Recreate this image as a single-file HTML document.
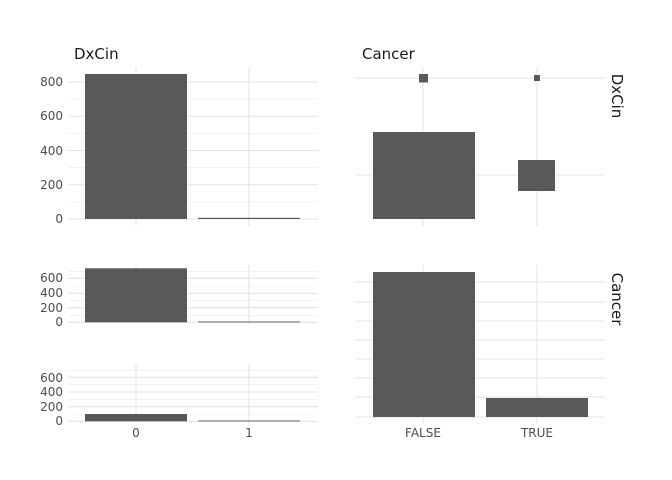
<!DOCTYPE html>
<html><head><meta charset="utf-8"><style>
html,body{margin:0;padding:0;background:#fff;}
svg{display:block;font-family:"DejaVu Sans","Liberation Sans",sans-serif;}
.t{font-size:12px;fill:#4d4d4d;}
.h{font-size:15px;fill:#1a1a1a;}
</style></head><body>
<svg width="672" height="480" viewBox="0 0 672 480" xmlns="http://www.w3.org/2000/svg">
<rect width="672" height="480" fill="#fff"/>
<text class="h" x="74" y="59">DxCin</text>
<text class="h" x="362" y="59">Cancer</text>
<text class="h" transform="translate(612,96) rotate(90)" text-anchor="middle">DxCin</text>
<text class="h" transform="translate(612,299) rotate(90)" text-anchor="middle">Cancer</text>

<g stroke="#ebebeb" stroke-width="0.6">
<line x1="68" x2="318" y1="201.9" y2="201.9"/><line x1="68" x2="318" y1="167.6" y2="167.6"/><line x1="68" x2="318" y1="133.4" y2="133.4"/><line x1="68" x2="318" y1="99.1" y2="99.1"/>
</g>
<g stroke="#e3e3e3" stroke-width="1.1">
<line x1="68" x2="318" y1="219" y2="219"/><line x1="68" x2="318" y1="184.75" y2="184.75"/><line x1="68" x2="318" y1="150.5" y2="150.5"/><line x1="68" x2="318" y1="116.25" y2="116.25"/><line x1="68" x2="318" y1="82" y2="82"/>
<line x1="136" x2="136" y1="67" y2="226"/><line x1="249" x2="249" y1="67" y2="226"/>
</g>
<rect x="85" y="74" width="102" height="145" fill="#595959"/>
<rect x="198" y="217.8" width="102" height="1.2" fill="#595959"/>
<g class="t" text-anchor="end">
<text x="63" y="223">0</text><text x="63" y="189">200</text><text x="63" y="155">400</text><text x="63" y="120">600</text><text x="63" y="86">800</text>
</g>

<g stroke="#e3e3e3" stroke-width="1.1">
<line x1="355" x2="605" y1="78" y2="78"/><line x1="355" x2="605" y1="175" y2="175"/>
<line x1="423" x2="423" y1="67" y2="226"/><line x1="537" x2="537" y1="67" y2="226"/>
</g>
<rect x="373" y="132" width="102" height="87" fill="#595959"/>
<rect x="518" y="160" width="37" height="31" fill="#595959"/>
<rect x="419" y="74" width="9" height="8.5" fill="#595959"/>
<rect x="534" y="75" width="6" height="6" fill="#595959"/>

<g stroke="#ebebeb" stroke-width="0.6">
<line x1="68" x2="318" y1="271.7" y2="271.7"/><line x1="68" x2="318" y1="286" y2="286"/><line x1="68" x2="318" y1="300.7" y2="300.7"/><line x1="68" x2="318" y1="315.3" y2="315.3"/>
</g>
<g stroke="#e3e3e3" stroke-width="1.1">
<line x1="68" x2="318" y1="278.3" y2="278.3"/><line x1="68" x2="318" y1="293.3" y2="293.3"/><line x1="68" x2="318" y1="307.7" y2="307.7"/><line x1="68" x2="318" y1="322.3" y2="322.3"/>
<line x1="136" x2="136" y1="265" y2="325"/><line x1="249" x2="249" y1="265" y2="325"/>
</g>
<rect x="85" y="268.3" width="102" height="54" fill="#595959"/>
<rect x="198" y="321.5" width="102" height="0.9" fill="#595959"/>
<g class="t" text-anchor="end">
<text x="63" y="326">0</text><text x="63" y="312">200</text><text x="63" y="297">400</text><text x="63" y="282">600</text>
</g>

<g stroke="#ebebeb" stroke-width="0.6">
<line x1="68" x2="318" y1="370.7" y2="370.7"/><line x1="68" x2="318" y1="384.7" y2="384.7"/><line x1="68" x2="318" y1="399.3" y2="399.3"/><line x1="68" x2="318" y1="414" y2="414"/>
</g>
<g stroke="#e3e3e3" stroke-width="1.1">
<line x1="68" x2="318" y1="377.3" y2="377.3"/><line x1="68" x2="318" y1="392" y2="392"/><line x1="68" x2="318" y1="406.7" y2="406.7"/><line x1="68" x2="318" y1="421.3" y2="421.3"/>
<line x1="136" x2="136" y1="364" y2="424"/><line x1="249" x2="249" y1="364" y2="424"/>
</g>
<rect x="85" y="414" width="102" height="7.3" fill="#595959"/>
<rect x="198" y="420.5" width="102" height="0.9" fill="#595959"/>
<g class="t" text-anchor="end">
<text x="63" y="425">0</text><text x="63" y="411">200</text><text x="63" y="396">400</text><text x="63" y="382">600</text>
</g>
<g class="t" text-anchor="middle">
<text x="136" y="437">0</text><text x="249" y="437">1</text>
</g>

<g stroke="#e3e3e3" stroke-width="1.1">
<line x1="355" x2="605" y1="282" y2="282"/><line x1="355" x2="605" y1="302" y2="302"/><line x1="355" x2="605" y1="321" y2="321"/><line x1="355" x2="605" y1="340" y2="340"/><line x1="355" x2="605" y1="359" y2="359"/><line x1="355" x2="605" y1="378" y2="378"/><line x1="355" x2="605" y1="397" y2="397"/><line x1="355" x2="605" y1="417" y2="417"/>
<line x1="423" x2="423" y1="265" y2="424"/><line x1="537" x2="537" y1="265" y2="424"/>
</g>
<rect x="373" y="272" width="102" height="145" fill="#595959"/>
<rect x="486" y="398" width="102" height="19" fill="#595959"/>
<g class="t" text-anchor="middle">
<text x="423" y="437">FALSE</text><text x="537" y="437">TRUE</text>
</g>
</svg>
</body></html>
